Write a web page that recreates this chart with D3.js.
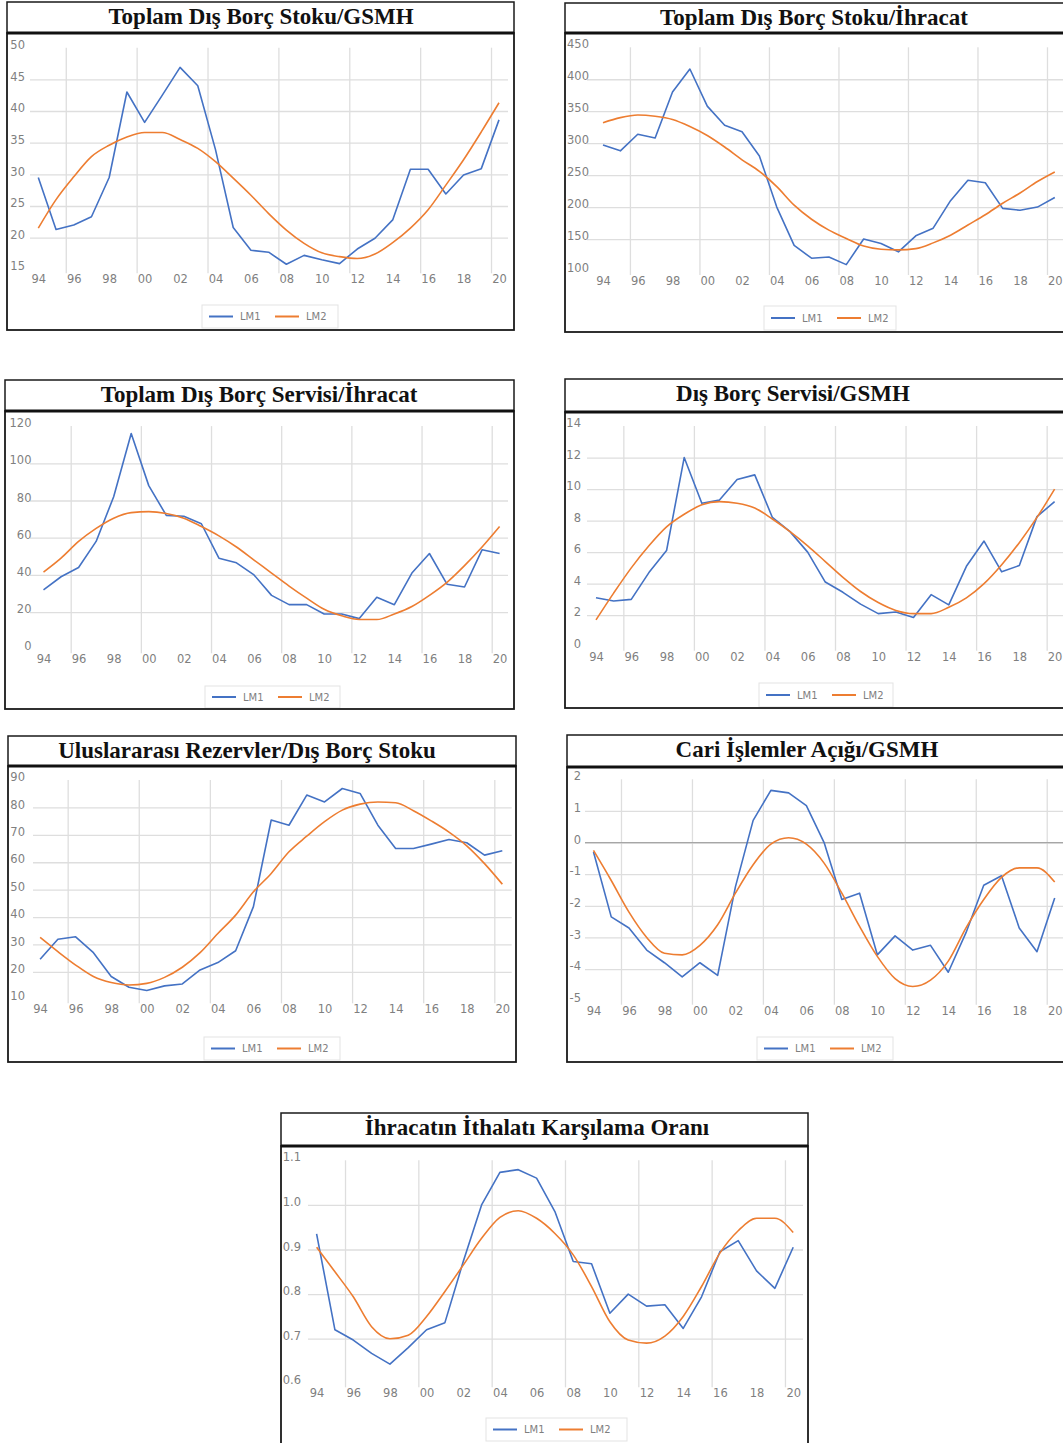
<!DOCTYPE html>
<html>
<head>
<meta charset="utf-8">
<script src="https://cdn.jsdelivr.net/npm/d3@7"></script>
<style>
  body { margin: 0; background: #fff; }
  svg { display: block; }
</style>
</head>
<body>
<svg width="1063" height="1443"></svg>
<script>
// yearly observations 1994 - 2020
const years = [1994, 1995, 1996, 1997, 1998, 1999, 2000, 2001, 2002, 2003, 2004, 2005, 2006, 2007,
  2008, 2009, 2010, 2011, 2012, 2013, 2014, 2015, 2016, 2017, 2018, 2019, 2020];
const xTickYears = [1994, 1996, 1998, 2000, 2002, 2004, 2006, 2008, 2010, 2012, 2014, 2016, 2018, 2020];
const seriesNames = ['LM1', 'LM2'];

// Toplam Dış Borç Stoku/GSMH
const stokGsmhLM1 = [29.5, 21.3, 22.0, 23.3, 29.5, 43.0, 38.2, 42.5, 46.9, 44.0, 33.9, 21.6, 18.0, 17.7,
  15.8, 17.2, 16.5, 15.9, 18.2, 19.9, 22.8, 30.8, 30.8, 26.9, 29.9, 30.9, 38.6];
const stokGsmhLM2 = [21.5, 26.0, 29.6, 32.8, 34.6, 35.9, 36.6, 36.6, 35.5, 34.1, 32.0, 29.4, 26.7, 23.8,
  21.2, 19.1, 17.6, 17.0, 16.7, 17.4, 19.2, 21.5, 24.4, 28.3, 32.3, 36.7, 41.3];
const stokGsmhTicks = [15, 20, 25, 30, 35, 40, 45, 50];

// Toplam Dış Borç Stoku/İhracat
const stokIhracatLM1 = [297, 288, 314, 308, 380, 416, 358, 328, 318, 280, 200, 140, 120, 122,
  110, 150, 143, 130, 155, 167, 210, 242, 238, 198, 195, 200, 215];
const stokIhracatLM2 = [332, 340, 344, 342, 337, 326, 312, 294, 274, 256, 232, 203, 181, 164,
  151, 139, 134, 133, 135, 144, 156, 172, 188, 206, 222, 240, 255];
const stokIhracatTicks = [100, 150, 200, 250, 300, 350, 400, 450];

// Toplam Dış Borç Servisi/İhracat
const servisIhracatLM1 = [32, 39, 44, 58, 82, 116, 88, 72, 71.5, 67.5, 49, 46.5, 40, 29,
  24, 24, 19, 19, 16.5, 28, 24, 41, 51.5, 35, 33.5, 53.5, 51.5];
const servisIhracatLM2 = [41.5, 49, 58, 65, 70.5, 73.5, 74, 73, 70.5, 66, 61, 55, 48, 41,
  34, 27.5, 21.5, 18, 16, 16, 19, 23, 29, 36, 45, 55, 66];
const servisIhracatTicks = [0, 20, 40, 60, 80, 100, 120];

// Dış Borç Servisi/GSMH
const servisGsmhLM1 = [3.1, 2.9, 3.0, 4.7, 6.1, 12.0, 9.1, 9.3, 10.6, 10.9, 8.2, 7.3, 6.0, 4.1,
  3.45, 2.7, 2.1, 2.2, 1.85, 3.3, 2.65, 5.1, 6.7, 4.75, 5.15, 8.25, 9.2];
const servisGsmhLM2 = [1.7, 3.4, 5.0, 6.4, 7.6, 8.4, 9.0, 9.2, 9.1, 8.8, 8.1, 7.3, 6.4, 5.4,
  4.4, 3.5, 2.8, 2.3, 2.1, 2.1, 2.5, 3.1, 4.0, 5.2, 6.6, 8.2, 10.0];
const servisGsmhTicks = [0, 2, 4, 6, 8, 10, 12, 14];

// Uluslararası Rezervler/Dış Borç Stoku
const rezervLM1 = [24.6, 31.9, 32.8, 27.0, 18.3, 14.4, 13.2, 14.9, 15.6, 20.7, 23.4, 27.7, 43.8, 75.4,
  73.5, 84.5, 82.0, 86.9, 85.1, 73.5, 65.0, 65.0, 66.6, 68.3, 67.1, 62.6, 64.2];
const rezervLM2 = [32.6, 27.4, 22.5, 18.3, 16.1, 15.2, 15.8, 18.0, 21.7, 27.0, 34.0, 40.7, 49.2, 55.9,
  63.8, 69.5, 74.8, 79.0, 81.2, 82.0, 81.7, 78.8, 75.1, 71.0, 66.0, 59.5, 52.0];
const rezervTicks = [10, 20, 30, 40, 50, 60, 70, 80, 90];

// Cari İşlemler Açığı/GSMH
const cariLM1 = [-0.3, -2.35, -2.7, -3.4, -3.8, -4.25, -3.8, -4.2, -1.4, 0.7, 1.65, 1.57, 1.17, 0,
  -1.8, -1.6, -3.55, -2.95, -3.4, -3.25, -4.1, -2.85, -1.35, -1.05, -2.7, -3.45, -1.75];
const cariLM2 = [-0.25, -1.2, -2.2, -3.0, -3.5, -3.55, -3.25, -2.6, -1.6, -0.7, -0.05, 0.15, -0.05, -0.65,
  -1.6, -2.65, -3.6, -4.3, -4.55, -4.35, -3.75, -2.7, -1.8, -1.1, -0.8, -0.8, -1.25];
const cariTicks = [-5, -4, -3, -2, -1, 0, 1, 2];

// İhracatın İthalatı Karşılama Oranı
const karsilamaLM1 = [0.935, 0.72, 0.697, 0.667, 0.643, 0.68, 0.72, 0.736, 0.873, 1.0, 1.073, 1.079, 1.06, 0.985,
  0.873, 0.868, 0.757, 0.80, 0.773, 0.776, 0.723, 0.794, 0.895, 0.92, 0.852, 0.813, 0.905];
const karsilamaLM2 = [0.905, 0.85, 0.794, 0.727, 0.70, 0.708, 0.75, 0.806, 0.865, 0.925, 0.972, 0.987, 0.97, 0.936,
  0.888, 0.817, 0.738, 0.697, 0.69, 0.706, 0.75, 0.817, 0.892, 0.942, 0.97, 0.97, 0.938];
const karsilamaTicks = [0.6, 0.7, 0.8, 0.9, 1.0, 1.1];

const colors = ['#4472c4', '#ed7d31'];
const gridYears = d3.range(1995.55, 2020, 4);
const plain = d => String(d).replace('\u2212', '-');

// panel layout (frame, plot area, legend)
const panels = [
  { title: 'Toplam Dış Borç Stoku/GSMH', lm1: stokGsmhLM1, lm2: stokGsmhLM2, ticks: stokGsmhTicks, fmt: plain,
    bx: 7, by: 2, bw: 507, th: 31, bottom: 330, x0: 38.3, x1: 499, yTop: 47.7, yBot: 269.3,
    gx0: 30, gx1: 508, labelX: 25, titleX: 261, lg: [202, 305, 136, 23] },
  { title: 'Toplam Dış Borç Stoku/İhracat', lm1: stokIhracatLM1, lm2: stokIhracatLM2, ticks: stokIhracatTicks, fmt: plain,
    bx: 565, by: 3, bw: 520, th: 30, bottom: 332, x0: 603, x1: 1054.8, yTop: 47.3, yBot: 271,
    gx0: 587, gx1: 1070, labelX: 589, titleX: 814, lg: [764, 306, 132, 24] },
  { title: 'Toplam Dış Borç Servisi/İhracat', lm1: servisIhracatLM1, lm2: servisIhracatLM2, ticks: servisIhracatTicks, fmt: plain,
    bx: 5, by: 380, bw: 509, th: 31, bottom: 709, x0: 43.5, x1: 499.6, yTop: 426.1, yBot: 649.3,
    gx0: 30, gx1: 508, labelX: 31.5, titleX: 259, lg: [205, 686, 135, 22] },
  { title: 'Dış Borç Servisi/GSMH', lm1: servisGsmhLM1, lm2: servisGsmhLM2, ticks: servisGsmhTicks, fmt: plain,
    bx: 565, by: 379, bw: 520, th: 33, bottom: 708, x0: 596, x1: 1054.6, yTop: 426, yBot: 646.7,
    gx0: 587, gx1: 1070, labelX: 581, titleX: 793, lg: [759, 683, 134, 24] },
  { title: 'Uluslararası Rezervler/Dış Borç Stoku', lm1: rezervLM1, lm2: rezervLM2, ticks: rezervTicks, fmt: plain,
    bx: 8, by: 736, bw: 508, th: 30, bottom: 1062, x0: 40.1, x1: 502.3, yTop: 780, yBot: 999.3,
    gx0: 33, gx1: 511.7, labelX: 25, titleX: 247, lg: [204, 1037, 136, 23] },
  { title: 'Cari İşlemler Açığı/GSMH', lm1: cariLM1, lm2: cariLM2, ticks: cariTicks, fmt: plain, zero: true,
    bx: 567, by: 735, bw: 520, th: 32, bottom: 1062, x0: 593.5, x1: 1054.7, yTop: 779.3, yBot: 1000.7,
    gx0: 585, gx1: 1070, labelX: 581, titleX: 807, lg: [757, 1037, 136, 23] },
  { title: 'İhracatın İthalatı Karşılama Oranı', lm1: karsilamaLM1, lm2: karsilamaLM2, ticks: karsilamaTicks, fmt: d3.format('.1f'),
    bx: 281, by: 1113, bw: 527, th: 33, bottom: 1450, x0: 316.6, x1: 793.2, yTop: 1160.3, yBot: 1383.3,
    gx0: 308, gx1: 803, labelX: 301, titleX: 537, lg: [486, 1418, 141, 23] }
];

const svg = d3.select('svg');

panels.forEach(p => {
  const g = svg.append('g');
  const x = d3.scaleLinear().domain([years[0], years[years.length - 1]]).range([p.x0, p.x1]);
  const y = d3.scaleLinear().domain(d3.extent(p.ticks)).range([p.yBot, p.yTop]);

  // horizontal gridlines
  g.append('g')
    .attr('transform', `translate(${p.gx0},0)`)
    .call(d3.axisRight(y).tickValues(p.ticks.slice(1, -1)).tickSize(p.gx1 - p.gx0).tickFormat(''))
    .call(a => a.select('.domain').remove())
    .call(a => a.selectAll('line').attr('stroke', '#dedede').attr('stroke-width', 1.3));

  // vertical gridlines
  g.append('g')
    .attr('transform', `translate(0,${p.yTop})`)
    .call(d3.axisBottom(x).tickValues(gridYears).tickSize(p.yBot - p.yTop + 4).tickFormat(''))
    .call(a => a.select('.domain').remove())
    .call(a => a.selectAll('line').attr('stroke', '#dedede').attr('stroke-width', 1.3));

  if (p.zero) {
    g.append('line')
      .attr('x1', p.gx0).attr('x2', p.gx1)
      .attr('y1', y(0)).attr('y2', y(0))
      .attr('stroke', '#a6a6a6').attr('stroke-width', 1.3);
  }

  // y tick labels
  g.append('g')
    .attr('transform', `translate(${p.labelX},0)`)
    .call(d3.axisLeft(y).tickValues(p.ticks).tickSize(0).tickPadding(0).tickFormat(p.fmt))
    .call(a => a.select('.domain').remove())
    .call(a => a.selectAll('text').attr('y', -3));

  // x tick labels
  g.append('g')
    .attr('transform', `translate(0,${p.yBot})`)
    .call(d3.axisBottom(x).tickValues(xTickYears).tickSize(0).tickPadding(6).tickFormat(d => String(d).slice(2)))
    .call(a => a.select('.domain').remove());

  g.selectAll('.tick text')
    .attr('fill', '#7f7f7f')
    .attr('font-family', 'DejaVu Sans')
    .attr('font-size', 11.5);

  // lines
  [p.lm1, p.lm2].forEach((vals, k) => {
    g.append('path')
      .datum(vals)
      .attr('fill', 'none')
      .attr('stroke', colors[k])
      .attr('stroke-width', 1.6)
      .attr('stroke-linejoin', 'round')
      .attr('d', d3.line()
        .x((d, i) => x(years[i]))
        .y(d => y(d))
        .curve(k === 0 ? d3.curveLinear : d3.curveMonotoneX));
  });

  // legend
  const [lx, ly, lw, lh] = p.lg;
  const lg = g.append('g').attr('transform', `translate(${lx},${ly})`);
  lg.append('rect').attr('width', lw).attr('height', lh)
    .attr('fill', '#fff').attr('stroke', '#e3e3e3').attr('stroke-width', 1);
  seriesNames.forEach((name, k) => {
    const ox = 7 + k * 66;
    lg.append('line')
      .attr('x1', ox).attr('x2', ox + 24)
      .attr('y1', lh / 2).attr('y2', lh / 2)
      .attr('stroke', colors[k]).attr('stroke-width', 2);
    lg.append('text')
      .attr('x', ox + 31).attr('y', lh / 2)
      .attr('dy', '0.35em')
      .attr('fill', '#7f7f7f')
      .attr('font-family', 'DejaVu Sans')
      .attr('font-size', 10)
      .text(name);
  });

  // frames
  g.append('rect')
    .attr('x', p.bx).attr('y', p.by + p.th).attr('width', p.bw).attr('height', p.bottom - p.by - p.th)
    .attr('fill', 'none').attr('stroke', '#1a1a1a').attr('stroke-width', 1.8);
  g.append('rect')
    .attr('x', p.bx).attr('y', p.by).attr('width', p.bw).attr('height', p.th)
    .attr('fill', 'none').attr('stroke', '#1a1a1a').attr('stroke-width', 1.5);
  g.append('line')
    .attr('x1', p.bx).attr('x2', p.bx + p.bw)
    .attr('y1', p.by + p.th).attr('y2', p.by + p.th)
    .attr('stroke', '#111').attr('stroke-width', 3);

  // title
  g.append('text')
    .attr('x', p.titleX).attr('y', p.by + 22)
    .attr('text-anchor', 'middle')
    .attr('font-family', 'Liberation Serif')
    .attr('font-weight', 'bold')
    .attr('font-size', 23)
    .attr('fill', '#111')
    .text(p.title);
});
</script>
</body>
</html>
